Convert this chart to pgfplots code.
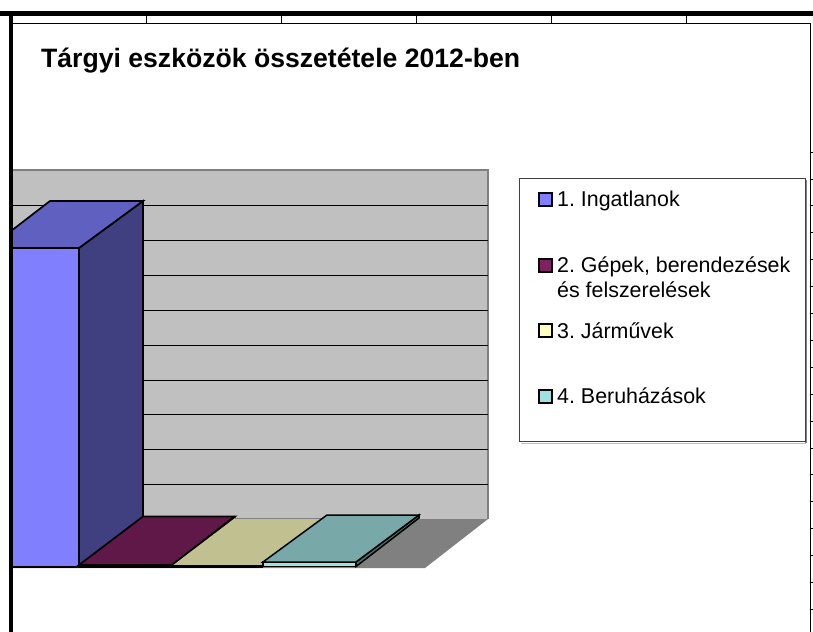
\documentclass[border=0pt]{standalone}
\usepackage{fontspec}
\setmainfont{Liberation Sans}
\usepackage{pgfplots}
\pgfplotsset{compat=1.18}
\definecolor{wall}{HTML}{C0C0C0}
\definecolor{floorc}{HTML}{808080}
\definecolor{bOneF}{HTML}{8080FF}
\definecolor{bOneT}{HTML}{6060C0}
\definecolor{bOneS}{HTML}{404080}
\definecolor{bTwoF}{HTML}{802060}
\definecolor{bTwoT}{HTML}{601848}
\definecolor{bTwoS}{HTML}{401030}
\definecolor{bThrF}{HTML}{FFFFC0}
\definecolor{bThrT}{HTML}{C0C090}
\definecolor{bFouF}{HTML}{A0E0E0}
\definecolor{bFouT}{HTML}{78A8A8}
\definecolor{bFouS}{HTML}{507070}
\definecolor{legb}{HTML}{404040}
\newcommand{\legf}{\fontsize{21.4bp}{24bp}\selectfont}
\frenchspacing
\begin{document}
\begin{tikzpicture}
\begin{axis}[
  scale only axis,width=813bp,height=632bp,
  xmin=0,xmax=813,ymin=0,ymax=632,y dir=reverse,
  hide axis,clip=true,
  every axis plot/.append style={mark=none},
]
% page background, which also fixes the picture's extent
\addplot[fill=white,draw=none] coordinates {(0,0)(813,0)(813,632)(0,632)} --cycle;
% walls and floor
\addplot[fill=wall,draw=none] coordinates {(13,170)(488,170)(488,519)(13,519)} --cycle;
\addplot[floorc,line width=2bp] coordinates {(13,170)(488,170)(488,519)};
\addplot[fill=floorc,draw=none] coordinates {(13,519)(488,519)(425,568)(13,568)} --cycle;
% gridlines
\pgfplotsinvokeforeach{205,240,275,310,345,380,414,449,484}{
  \addplot[black,line width=0.9bp] coordinates {(13,#1)(488,#1)};
}
% bar 1
\addplot[fill=bOneS,draw=black,line width=1.7bp] coordinates {(79,248)(143,201)(143,517)(79,566)} --cycle;
\addplot[fill=bOneT,draw=black,line width=1.7bp] coordinates {(11,248)(79,248)(143,201)(50,201)(11,231)} --cycle;
\addplot[fill=bOneF,draw=black,line width=1.3bp] coordinates {(11,248)(79,248)(79,567)(11,567)} --cycle;
% bar 2
\addplot[fill=bTwoF,draw=black,line width=1.3bp] coordinates {(79,564)(172,564)(172,567)(79,567)} --cycle;
\addplot[fill=bTwoT,draw=black,line width=1.7bp] coordinates {(79,565)(172,565)(235,516.5)(143,516.5)} --cycle;
\addplot[black,line width=3bp] coordinates {(172,566)(235,517)};
% bar 3
\addplot[fill=bThrT,draw=none] coordinates {(172,566)(263,566)(325,518)(235,518)} --cycle;
\addplot[floorc,line width=1bp] coordinates {(235,518)(325,518)};
\addplot[black,line width=2.2bp] coordinates {(172,566.5)(263,566.5)};
% bar 4
\addplot[fill=bFouS,draw=black,line width=1.5bp] coordinates {(356,562)(419,515)(419,518)(356,566.5)} --cycle;
\addplot[fill=bFouF,draw=black,line width=1.3bp] coordinates {(263,562)(356,562)(356,566.5)(263,566.5)} --cycle;
\addplot[fill=bFouT,draw=black,line width=1.5bp] coordinates {(263,562)(356,562)(419,515)(327,515)} --cycle;
% legend
\addplot[draw=floorc,line width=1.5bp] coordinates {(806,180)(806,443)};
\addplot[draw=floorc!50,line width=1bp] coordinates {(806,443)(521,443)};
\addplot[fill=white,draw=legb,line width=1bp] coordinates {(519.5,178.5)(805,178.5)(805,441.5)(519.5,441.5)} --cycle;
\addplot[fill=bOneF,draw=black,line width=2bp] coordinates {(538.5,193)(551.5,193)(551.5,206)(538.5,206)} --cycle;
\addplot[fill=bTwoF,draw=black,line width=2bp] coordinates {(538.5,259)(551.5,259)(551.5,272)(538.5,272)} --cycle;
\addplot[fill=bThrF,draw=black,line width=2bp] coordinates {(538.5,324)(551.5,324)(551.5,337)(538.5,337)} --cycle;
\addplot[fill=bFouF,draw=black,line width=2bp] coordinates {(538.5,390)(551.5,390)(551.5,403)(538.5,403)} --cycle;
\node[anchor=base west,inner sep=0pt,font=\legf] at (axis cs:557,206) {1. Ingatlanok};
\node[anchor=base west,inner sep=0pt,font=\legf] at (axis cs:557,272) {2. Gépek, berendezések};
\node[anchor=base west,inner sep=0pt,font=\legf] at (axis cs:557,297) {és felszerelések};
\node[anchor=base west,inner sep=0pt,font=\legf] at (axis cs:557,338) {3. Járművek};
\node[anchor=base west,inner sep=0pt,font=\legf] at (axis cs:557,403) {4. Beruházások};
% title
\node[anchor=base west,inner sep=0pt,font=\bfseries\fontsize{26.6bp}{30bp}\selectfont] at (axis cs:41,68) {Tárgyi eszközök összetétele 2012-ben};
% sheet frame
\addplot[black,line width=5bp] coordinates {(0,13.5)(813,13.5)};
\addplot[black,line width=4.5bp] coordinates {(11,11)(11,632)};
\addplot[black,line width=1bp] coordinates {(13,23.5)(810.5,23.5)(810.5,632)};
\pgfplotsinvokeforeach{146.5,281.5,416,551,686}{
  \addplot[black,line width=1bp] coordinates {(#1,16)(#1,23.5)};
}
\pgfplotsinvokeforeach{152,179,205,232,259,286,313,340,367,394,421,448,474,501,528,555,582,609}{
  \addplot[black,line width=1bp] coordinates {(810.5,#1)(813,#1)};
}
\end{axis}
\end{tikzpicture}
\end{document}
